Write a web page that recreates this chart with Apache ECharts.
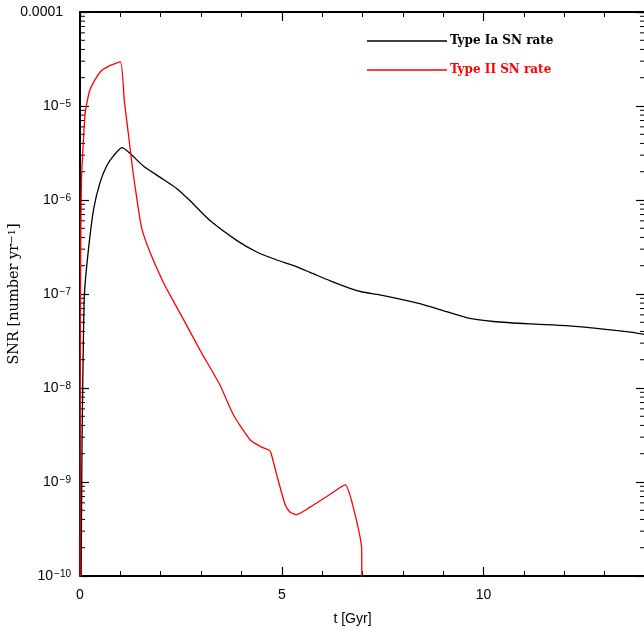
<!DOCTYPE html>
<html>
<head>
<meta charset="utf-8">
<script src="https://cdn.jsdelivr.net/npm/echarts@6/dist/echarts.min.js"></script>
<style>
  html, body { margin: 0; padding: 0; background: #fff; }
  #snr { width: 644px; height: 629px; }
</style>
</head>
<body>
<div id="snr"></div>
<script>
/* SN rates vs time */
var X_MIN = 0, X_MAX = 14;
var Y_MIN = 1e-10, Y_MAX = 1e-4;

// Type II (red)
var tII = [0, 0.01, 0.02, 0.04, 0.075, 0.13, 0.25, 0.5, 0.75, 1.0,
    1.1, 1.2, 1.3, 1.41, 1.53, 1.74, 2.07, 2.32, 2.56, 2.98,
    3.47, 3.8, 4.22, 4.5, 4.67, 4.73, 4.88, 5.08, 5.2, 5.37,
    5.7, 6.2, 6.57, 6.77, 6.98, 6.99];
var rateII = [1e-11, 3.2e-8, 5.0e-7, 1.8e-6, 3.6e-6, 8.5e-6, 1.5e-5, 2.3e-5, 2.7e-5, 2.95e-5,
    1.12e-5, 5.0e-6, 2.2e-6, 1.02e-6, 5.0e-7, 2.75e-7, 1.32e-7, 8.3e-8, 5.4e-8, 2.5e-8,
    1.07e-8, 5.2e-9, 2.8e-9, 2.35e-9, 2.2e-9, 2.05e-9, 1.17e-9, 5.8e-10, 4.8e-10, 4.5e-10,
    5.4e-10, 7.4e-10, 9.3e-10, 5.4e-10, 1.9e-10, 1e-11];

// Type Ia (black)
var tIa = [0.02, 0.05, 0.08, 0.11, 0.21, 0.34, 0.5, 0.66, 0.83, 1.04,
    1.25, 1.57, 1.99, 2.4, 2.73, 3.23, 3.89, 4.38, 4.88, 5.3,
    5.7, 6.2, 6.69, 7.0, 7.43, 8.42, 9.08, 9.66, 10.24, 11.15,
    12.05, 12.8, 13.7, 14.0];
var rateIa = [3e-11, 2.5e-9, 2.5e-8, 1.0e-7, 3.0e-7, 8.1e-7, 1.55e-6, 2.3e-6, 2.95e-6, 3.6e-6,
    3.1e-6, 2.3e-6, 1.74e-6, 1.32e-6, 9.8e-7, 6.0e-7, 3.7e-7, 2.8e-7, 2.3e-7, 2.0e-7,
    1.7e-7, 1.38e-7, 1.15e-7, 1.05e-7, 9.8e-8, 7.9e-8, 6.5e-8, 5.5e-8, 5.1e-8, 4.8e-8,
    4.6e-8, 4.3e-8, 3.9e-8, 3.7e-8];

var legendNames = ['Type Ia SN rate', 'Type II SN rate'];

// log minor tick positions (2..9 x 10^n)
var yMinor = [];
for (var n = -10; n < -4; n++) {
    for (var k = 2; k <= 9; k++) {
        yMinor.push([0, k * Math.pow(10, n)]);
    }
}

function pairs(xs, ys) {
    return xs.map(function (x, i) { return [x, ys[i]]; });
}

var myChart = echarts.init(document.getElementById('snr'));

var xBase = {
    type: 'value',
    min: X_MIN,
    max: X_MAX,
    interval: 5,
    splitLine: { show: false },
    axisLine: { onZero: false, lineStyle: { color: '#000', width: 2 } },
    axisTick: { inside: true, length: 9, lineStyle: { color: '#000', width: 1.2 } },
    minorTick: { show: true, splitNumber: 5, length: 5, lineStyle: { color: '#000', width: 1 } }
};

var yBase = {
    type: 'log',
    logBase: 10,
    min: Y_MIN,
    max: Y_MAX,
    splitLine: { show: false },
    axisLine: { onZero: false, lineStyle: { color: '#000', width: 2 } },
    axisTick: { inside: true, length: 9, lineStyle: { color: '#000', width: 1.2 } }
};

var option = {
    animation: false,
    backgroundColor: '#fff',
    grid: { left: 80, right: -1, top: 12, bottom: 53, containLabel: false, outerBoundsMode: 'none' },
    legend: {
        left: 362,
        top: 30,
        orient: 'vertical',
        itemWidth: 80,
        itemHeight: 1.5,
        itemGap: 17,
        icon: 'rect',
        textStyle: {
            fontFamily: 'DejaVu Serif',
            fontWeight: 'bold',
            fontSize: 12,
            padding: [0, 0, 4, -2]
        },
        data: [
            { name: legendNames[0], textStyle: { color: '#000' } },
            { name: legendNames[1], textStyle: { color: '#ff0000' } }
        ]
    },
    xAxis: [
        Object.assign({}, xBase, {
            position: 'bottom',
            name: 't [Gyr]',
            nameLocation: 'middle',
            nameGap: 36,
            nameTextStyle: { color: '#000', fontFamily: 'Liberation Sans', fontSize: 14, padding: [0, 20, 0, 0] },
            axisLabel: {
                color: '#000', fontFamily: 'Liberation Sans', fontSize: 14, margin: 12,
                formatter: function (v) { return v % 5 === 0 ? String(v) : ''; }
            }
        }),
        Object.assign({}, xBase, {
            position: 'top',
            axisLabel: { show: false }
        })
    ],
    yAxis: [
        Object.assign({}, yBase, {
            position: 'left',
            name: 'SNR [number yr{sup|−1}]',
            nameLocation: 'middle',
            nameGap: 58,
            nameMoveOverlap: false,
            nameTextStyle: {
                color: '#000', fontFamily: 'DejaVu Serif', fontSize: 14.5,
                rich: { sup: { fontFamily: 'DejaVu Serif', fontSize: 10, verticalAlign: 'top', color: '#000' } }
            },
            axisLabel: {
                color: '#000',
                fontFamily: 'Liberation Sans',
                fontSize: 14,
                margin: 9,
                formatter: function (v) {
                    if (v >= 9e-5) return '{p|0.0001}';
                    var e = Math.round(Math.log10(v));
                    return '{b|10}{sup|−' + (-e) + '}';
                },
                rich: {
                    p: { fontFamily: 'Liberation Sans', fontSize: 14, color: '#000', padding: [0, 8, 0, 0] },
                    b: { fontFamily: 'Liberation Sans', fontSize: 14, color: '#000' },
                    sup: { fontFamily: 'Liberation Sans', fontSize: 10, color: '#000', verticalAlign: 'top', padding: [0, 0, 2, 1] }
                }
            }
        }),
        Object.assign({}, yBase, {
            position: 'right',
            axisLabel: { show: false }
        })
    ],
    series: [
        {
            name: legendNames[0],
            type: 'line',
            xAxisIndex: 0,
            yAxisIndex: 0,
            showSymbol: false,
            symbol: 'none',
            smooth: 0.2,
            color: '#000',
            lineStyle: { color: '#000', width: 1.3 },
            data: pairs(tIa, rateIa)
        },
        {
            name: legendNames[1],
            type: 'line',
            xAxisIndex: 0,
            yAxisIndex: 0,
            showSymbol: false,
            symbol: 'none',
            smooth: 0.2,
            color: '#ff0000',
            lineStyle: { color: '#ff0000', width: 1.3 },
            data: pairs(tII, rateII)
        },
        {
            name: 'minor',
            type: 'custom',
            xAxisIndex: 0,
            yAxisIndex: 0,
            silent: true,
            clip: false,
            encode: { x: 0, y: 1 },
            renderItem: function (params, api) {
                var v = api.value(1);
                var l = api.coord([X_MIN, v]);
                var r = api.coord([X_MAX, v]);
                var st = { stroke: '#000', lineWidth: 1 };
                return {
                    type: 'group',
                    children: [
                        { type: 'line', shape: { x1: l[0], y1: l[1], x2: l[0] + 5, y2: l[1] }, style: st },
                        { type: 'line', shape: { x1: r[0] - 5, y1: r[1], x2: r[0], y2: r[1] }, style: st }
                    ]
                };
            },
            data: yMinor
        }
    ]
};

myChart.setOption(option);
</script>
</body>
</html>
